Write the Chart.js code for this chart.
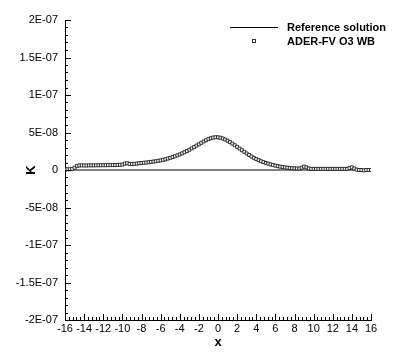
<!DOCTYPE html>
<html>
<head>
<meta charset="utf-8">
<script src="https://cdn.jsdelivr.net/npm/chart.js@4/dist/chart.umd.min.js"></script>
<style>
  html, body { margin: 0; padding: 0; background: #fff; }
  #wrap { width: 401px; height: 356px; }
</style>
</head>
<body>
<div id="wrap"><canvas id="myChart" width="401" height="356"></canvas></div>
<script>
'use strict';

// K values are given in units of 1E-08
var K_UNIT = 1e-8;

var xs = [
  -16, -15.75, -15.5, -15.25, -15, -14.75, -14.5, -14.25,
  -14, -13.75, -13.5, -13.25, -13, -12.75, -12.5, -12.25,
  -12, -11.75, -11.5, -11.25, -11, -10.75, -10.5, -10.25,
  -10, -9.75, -9.5, -9.25, -9, -8.75, -8.5, -8.25,
  -8, -7.75, -7.5, -7.25, -7, -6.75, -6.5, -6.25,
  -6, -5.75, -5.5, -5.25, -5, -4.75, -4.5, -4.25,
  -4, -3.75, -3.5, -3.25, -3, -2.75, -2.5, -2.25,
  -2, -1.75, -1.5, -1.25, -1, -0.75, -0.5, -0.25,
  0, 0.25, 0.5, 0.75, 1, 1.25, 1.5, 1.75,
  2, 2.25, 2.5, 2.75, 3, 3.25, 3.5, 3.75,
  4, 4.25, 4.5, 4.75, 5, 5.25, 5.5, 5.75,
  6, 6.25, 6.5, 6.75, 7, 7.25, 7.5, 7.75,
  8, 8.25, 8.5, 8.75, 9, 9.25, 9.5, 9.75,
  10, 10.25, 10.5, 10.75, 11, 11.25, 11.5, 11.75,
  12, 12.25, 12.5, 12.75, 13, 13.25, 13.5, 13.75,
  14, 14.25, 14.5, 14.75, 15, 15.25, 15.5, 15.75,
  16
];

var kAder = [
  0.05, 0.1, 0.1, 0.15, 0.3, 0.55, 0.6, 0.62,
  0.6, 0.6, 0.62, 0.62, 0.62, 0.63, 0.63, 0.63,
  0.64, 0.64, 0.65, 0.65, 0.66, 0.66, 0.67, 0.7,
  0.72, 0.85, 0.9, 0.82, 0.8, 0.82, 0.85, 0.9,
  0.93, 0.97, 1.0, 1.04, 1.08, 1.12, 1.17, 1.22,
  1.28, 1.35, 1.43, 1.52, 1.62, 1.72, 1.83, 1.95,
  2.08, 2.22, 2.37, 2.53, 2.7, 2.88, 3.06, 3.25,
  3.43, 3.62, 3.8, 3.97, 4.12, 4.24, 4.33, 4.37,
  4.36, 4.3, 4.2, 4.06, 3.9, 3.72, 3.52, 3.3,
  3.08, 2.86, 2.64, 2.42, 2.2, 2.0, 1.8, 1.62,
  1.46, 1.31, 1.17, 1.05, 0.94, 0.84, 0.75, 0.66,
  0.58, 0.51, 0.45, 0.4, 0.35, 0.31, 0.27, 0.24,
  0.22, 0.2, 0.2, 0.3, 0.45, 0.35, 0.2, 0.15,
  0.15, 0.15, 0.15, 0.15, 0.15, 0.15, 0.15, 0.15,
  0.15, 0.15, 0.15, 0.15, 0.15, 0.15, 0.15, 0.25,
  0.35, 0.2, 0.05, 0, 0, -0.05, 0, 0,
  0
];

// reference solution: K = 0 over the whole domain
var xRef = [-16, 16];
var kRef = [0, 0];

var FONT = "'Liberation Sans', Arial, Helvetica, sans-serif";

function sciLabel(v) {
    if (Math.abs(v) < 1e-15) return '0';
    var e = Math.floor(Math.log10(Math.abs(v)) + 1e-9);
    var m = Math.round(v / Math.pow(10, e) * 100) / 100;
    var es = Math.abs(e) < 10 ? '0' + Math.abs(e) : '' + Math.abs(e);
    return m + 'E' + (e < 0 ? '-' : '+') + es;
}

// inward ticks, axis titles and legend
var decor = {
    id: 'decor',
    afterDraw: function(chart) {
        var c = chart.ctx;
        var xs_ = chart.scales.x, ys_ = chart.scales.y;
        var a = chart.chartArea;
        c.save();
        c.strokeStyle = '#000';
        c.lineWidth = 1;
        c.beginPath();
        for (var i = 0; i <= 80; i++) {
            var px = Math.round(xs_.getPixelForValue(-16 + i * 0.4)) + 0.5;
            var len = (i % 5 === 0) ? 6 : 3;
            c.moveTo(px, a.bottom);
            c.lineTo(px, a.bottom - len);
        }
        for (var j = 0; j <= 40; j++) {
            var py = Math.round(ys_.getPixelForValue(-2e-7 + j * 1e-8)) + 0.5;
            var l2 = (j % 5 === 0) ? 6 : 3;
            c.moveTo(a.left, py);
            c.lineTo(a.left + l2, py);
        }
        c.stroke();

        // axis titles
        c.fillStyle = '#000';
        c.font = 'bold 13px ' + FONT;
        c.textAlign = 'center';
        c.textBaseline = 'middle';
        c.fillText('x', (a.left + a.right) / 2, 342);
        c.save();
        c.translate(31, ys_.getPixelForValue(0));
        c.rotate(-Math.PI / 2);
        c.fillText('K', 0, 0);
        c.restore();

        // legend
        c.font = 'bold 11px ' + FONT;
        c.textAlign = 'left';
        c.beginPath();
        c.moveTo(230, 27.5);
        c.lineTo(278, 27.5);
        c.stroke();
        c.fillText(chart.data.datasets[0].label, 287, 28);
        c.strokeStyle = '#333';
        c.strokeRect(252.5, 39.5, 3, 3);
        c.fillText(chart.data.datasets[1].label, 287, 42);
        c.restore();
    }
};

var ctx = document.getElementById('myChart').getContext('2d');
var myChart = new Chart(ctx, {
    type: 'scatter',
    data: {
        datasets: [{
            label: 'Reference solution',
            data: xRef.map(function(x, i) { return { x: x, y: kRef[i] * K_UNIT }; }),
            showLine: true,
            borderColor: '#000',
            borderWidth: 1,
            pointRadius: 0,
            order: 2
        }, {
            label: 'ADER-FV O3 WB',
            data: xs.map(function(x, i) { return { x: x, y: kAder[i] * K_UNIT }; }),
            showLine: false,
            pointStyle: 'rect',
            pointRadius: 2.1,
            borderWidth: 1,
            borderColor: 'rgba(30,30,30,0.9)',
            backgroundColor: '#fff',
            order: 1
        }]
    },
    plugins: [decor],
    options: {
        responsive: false,
        animation: false,
        layout: { padding: { left: 0, right: 30, top: 20, bottom: 0 } },
        plugins: {
            legend: { display: false },
            tooltip: { enabled: false }
        },
        scales: {
            x: {
                type: 'linear',
                min: -16,
                max: 16,
                grid: { display: false, drawTicks: false },
                border: { display: true, color: '#000', width: 1 },
                ticks: {
                    stepSize: 2,
                    autoSkip: false,
                    maxRotation: 0,
                    padding: 2,
                    color: '#000',
                    font: { family: FONT, size: 11 }
                },
                afterFit: function(s) { s.height = 36; }
            },
            y: {
                type: 'linear',
                min: -2e-7,
                max: 2e-7,
                grid: { display: false, drawTicks: false },
                border: { display: true, color: '#000', width: 1 },
                ticks: {
                    stepSize: 5e-8,
                    autoSkip: false,
                    padding: 7,
                    color: '#000',
                    font: { family: FONT, size: 11 },
                    callback: function(v) { return sciLabel(v); }
                },
                afterFit: function(s) { s.width = 65; }
            }
        }
    }
});
</script>
</body>
</html>
